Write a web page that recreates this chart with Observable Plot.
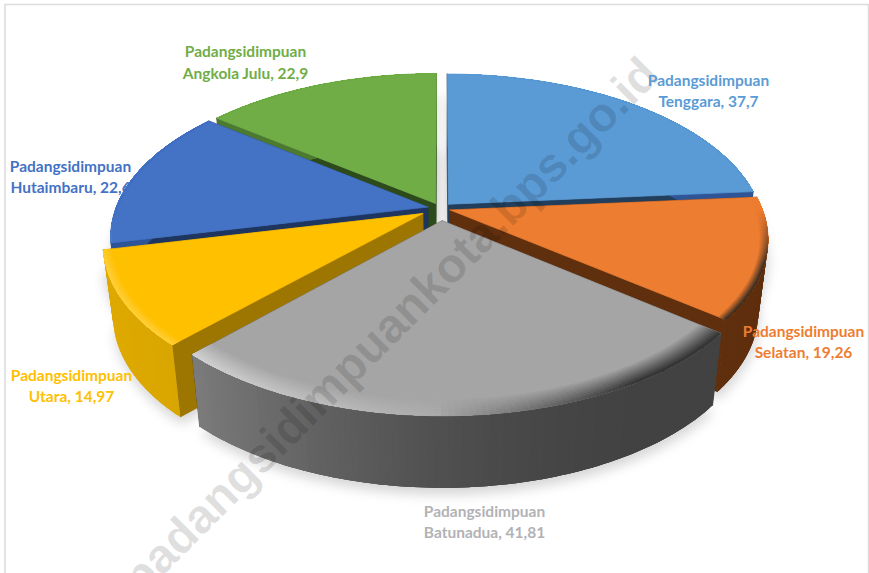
<!DOCTYPE html>
<html><head><meta charset="utf-8">
<style>html,body{margin:0;padding:0;background:#fff}svg{display:block}</style>
<script src="https://cdn.jsdelivr.net/npm/d3@7"></script>
<script src="https://cdn.jsdelivr.net/npm/@observablehq/plot@0.6"></script>
</head><body><div id="chart"></div>
<script>
// Data
const districts = ["Tenggara","Selatan","Batunadua","Utara","Hutaimbaru","Angkola Julu"];
const values = [37.7,19.26,41.81,14.97,22.6,22.9];
const valueLabels = ["37,7","19,26","41,81","14,97","22,6","22,9"];
const prefix = "Padangsidimpuan";
// Styles
const topColors = ["#5b9bd5","#ed7d31","#a5a5a5","#ffc000","#4472c4","#70ad47"];
const faceColors = ["#213f5c","#5f2f0e","#444444","#9c7600","#1e3560","#2d4a1b"];
const wallLeft = ["#3a6a96","#5f2f0e","#949494","#e0ab00","#2f5597","#4c7a30"];
const wallRight = ["#2f5597","#5f2f0e","#424242","#c99a00","#2f5597","#4c7a30"];
const labelColors = ["#5b9bd5","#ed7d31","#b2b2b6","#ffc000","#4472c4","#70ad47"];
const bevelWidth = [.004,.025,.07,.03,.006,.003];
const highlight = [.1,.1,.5,.22,.12,.05];
const explode = [.038,.032,.078,.065,.042,.036];
const drawOrder = [5,4,0,1,3,2];
// Layout
const W=869,H=573,cx=440,cy=208,Rx=312,Ry=155,p=.18,depth=72,baseScale=.97,N=90;
const labelX=[708,803,484,71,70,245], labelY=[89,340,520,384,175,60.5];

const total=d3.sum(values);
let acc=0;
const slices=values.map((v,i)=>{const a0=acc/total*2*Math.PI;acc+=v;const a1=acc/total*2*Math.PI;return {i,a0,a1,mid:(a0+a1)/2};});
function proj(s,r,a){
  const u=r*Math.sin(a)+explode[s.i]*Math.sin(s.mid), v=-r*Math.cos(a)-explode[s.i]*Math.cos(s.mid), w=1-p*v;
  return [cx+Rx*u/w, cy+Ry*v/w];
}
const down=([x,y])=>[cx+(x-cx)*baseScale, y+depth];
const polys=[],shadow=[];let pid=0;
function add(target,pts,c,s=c){const id=pid++;[...pts,pts[0]].forEach(q=>target.push({id,x:q[0],y:q[1],c,s}));}
const arcPts=(s,r)=>d3.range(0,N+1).map(k=>proj(s,r,s.a0+(s.a1-s.a0)*k/N));
for(const i of drawOrder){
  const s=slices[i], rim=arcPts(s,1), apex=proj(s,0,0);
  add(shadow,[apex,...rim].map(down).map(([x,y])=>[x+1,y+7]),"#000");
  add(shadow,[apex,...rim].map(([x,y])=>[x,y+22]),"#000");
  add(polys,[rim[0],apex,down(apex),down(rim[0])],faceColors[i]);
  add(polys,[rim[N],apex,down(apex),down(rim[N])],faceColors[i]);
  for(let k=0;k<N;k++){
    const a=s.a0+(s.a1-s.a0)*(k+.5)/N, t=(Math.sin(a)+1)/2;
    const c=d3.interpolateRgb(wallLeft[i],wallRight[i])(d3.easeSinOut(Math.min(1,t/.8)));
    const e=Math.min(k+3,N), span=rim.slice(k,e+1);
    add(polys,[...span,...span.map(down).reverse()],c,"none");
  }
  add(polys,[apex,...rim],topColors[i]);
  const rings=10,bw=bevelWidth[i],outer=arcPts(s,1);
  for(let j=rings-1;j>=0;j--){
    const r0=1-bw*(j+1)/rings, B=arcPts(s,r0);
    for(let k=0;k<N;k++){
      const a=s.a0+(s.a1-s.a0)*(k+.5)/N, uu=Math.sin(a), vv=-Math.cos(a);
      const edge=uu<0
        ? d3.interpolateRgb(topColors[i],"#fff")(Math.min(highlight[i],-uu*1.2*highlight[i]+.06))
        : d3.interpolateRgb(topColors[i],"#222")(Math.min(.85,uu*1.6));
      const front=Math.max(0,Math.min(1,vv*3));
      const c=d3.interpolateRgb(topColors[i],edge)(front*(1-j/rings));
      const e=Math.min(k+3,N);
      add(polys,[...outer.slice(k,e+1),...B.slice(k,e+1).reverse()],c,"none");
    }
  }
}
const labels=districts.map((d,i)=>({text:`${prefix}\n${d}, ${valueLabels[i]}`,x:labelX[i],y:labelY[i],c:labelColors[i]}));
const plot=Plot.plot({
  width:W,height:H,margin:0,
  x:{domain:[0,W],range:[0,W],axis:null},
  y:{domain:[0,H],range:[0,H],axis:null},
  color:{type:"identity"},
  style:{background:"#fff"},
  marks:[
    Plot.frame({stroke:"#dcdcdc",strokeWidth:1.5,insetLeft:4.5,insetTop:4,insetRight:1,insetBottom:-5}),
    Plot.line(shadow,{x:"x",y:"y",z:"id",fill:"#000",stroke:null,fillOpacity:.16,curve:"linear",imageFilter:"blur(6px)"}),
    Plot.line(polys,{x:"x",y:"y",z:"id",fill:"c",stroke:"s",strokeWidth:.7,curve:"linear"}),
    Plot.text(["padangsidimpuankota.bps.go.id"],{x:[390],y:[326],rotate:-45,fontSize:48,fontWeight:700,fontFamily:"Liberation Sans",fill:"#000",fillOpacity:.12}),
    Plot.text(labels,{x:"x",y:"y",text:"text",fill:"c",fontFamily:"Lato",fontWeight:700,fontSize:15.5,lineHeight:1.39,lineAnchor:"middle"})
  ]
});
document.getElementById("chart").append(plot);
</script></body></html>
